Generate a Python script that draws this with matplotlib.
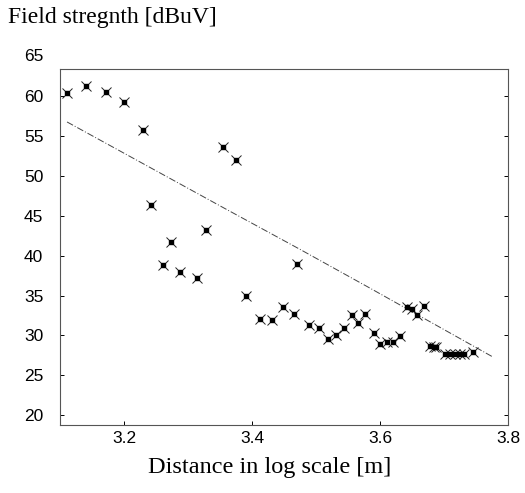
import matplotlib
matplotlib.use("Agg")
import matplotlib.pyplot as plt
from matplotlib.transforms import blended_transform_factory

# measured field strength (x = log10 of distance)
meas_x = [3.111, 3.141, 3.172, 3.200, 3.230, 3.242, 3.261, 3.273, 3.287, 3.314,
          3.328, 3.354, 3.375, 3.391, 3.412, 3.432, 3.448, 3.466, 3.470, 3.489,
          3.505, 3.518, 3.531, 3.543, 3.556, 3.566, 3.577, 3.590, 3.600, 3.611,
          3.621, 3.632, 3.642, 3.650, 3.658, 3.668, 3.678, 3.685, 3.688, 3.701,
          3.709, 3.717, 3.725, 3.732, 3.745]
meas_y = [60.4, 61.3, 60.5, 59.3, 55.8, 46.4, 38.8, 41.7, 38.0, 37.2,
          43.2, 53.6, 52.0, 34.9, 32.1, 31.9, 33.6, 32.7, 39.0, 31.3,
          30.9, 29.6, 30.0, 30.9, 32.6, 31.5, 32.7, 30.3, 28.9, 29.2,
          29.2, 29.9, 33.5, 33.3, 32.6, 33.7, 28.7, 28.5, 28.5, 27.7,
          27.7, 27.7, 27.7, 27.7, 27.9]

# predicted curve
model_x = [3.111, 3.356, 3.475, 3.585, 3.776]
model_y = [56.8, 46.0, 40.8, 35.9, 27.3]

xticks = [3.2, 3.4, 3.6, 3.8]
yticks = [20, 25, 30, 35, 40, 45, 50, 55, 60]

plt.rcParams["font.family"] = ["Liberation Sans", "DejaVu Sans"]

fig = plt.figure(figsize=(5.25, 4.93), dpi=100)
ax = fig.add_axes([60 / 525, 1 - 425 / 493, 448 / 525, 356 / 493])

ax.plot(model_x, model_y, color="#444444", lw=0.7, ls=(0, (7, 2, 1, 2)))
ax.plot(meas_x, meas_y, ls="none", marker="x", ms=6.5, mew=0.7, color="#222222")
ax.plot(meas_x, meas_y, ls="none", marker="s", ms=2.5, color="black")

ax.set_xlim(3.1, 3.8)
ax.set_ylim(18.74, 63.45)
ax.set_xticks(xticks)
ax.set_yticks(yticks)
ax.set_xticklabels([str(t) for t in xticks])
ax.tick_params(direction="in", length=3, width=0.7, labelsize=12.5, right=True)
ax.tick_params(axis="y", pad=12)
ax.tick_params(axis="x", pad=4)

# 65 sits above the frame in the original
trans = blended_transform_factory(ax.transAxes, ax.transData)
ax.annotate("65", xy=(0, 65), xycoords=trans, xytext=(-12, 0),
            textcoords="offset points", ha="right", va="center",
            fontsize=12.5, annotation_clip=False)

for s in ax.spines.values():
    s.set_color("#555555")
    s.set_linewidth(0.8)
    s.set_linestyle((0, (5, 1, 1, 1)))

fig.text(8 / 525, 1 - 17 / 493, "Field stregnth [dBuV]", family="Liberation Serif",
         fontsize=17, ha="left", va="center")
fig.text(270 / 525, 1 - 467 / 493, "Distance in log scale [m]", family="Liberation Serif",
         fontsize=17.5, ha="center", va="center")

fig.savefig("out.png", dpi=100)
